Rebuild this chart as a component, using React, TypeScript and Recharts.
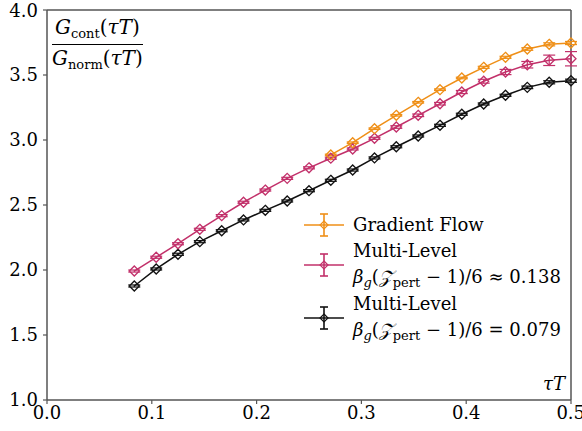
import React from 'react';
import { LineChart, Line, XAxis, YAxis, ErrorBar, ReferenceLine } from 'recharts';

// flow time in units of the inverse temperature
const tauT = [
  0.0833, 0.1042, 0.125, 0.1458, 0.1667, 0.1875, 0.2083, 0.2292, 0.25, 0.2708, 0.2917,
  0.3125, 0.3333, 0.3542, 0.375, 0.3958, 0.4167, 0.4375, 0.4583, 0.4792, 0.5,
];

const gradientFlow = [
  null, null, null, null, null, null, null, null, null,
  2.885, 2.979, 3.087, 3.19, 3.29, 3.387, 3.477, 3.559, 3.636, 3.7, 3.736, 3.746,
];
const gradientFlowErr = [
  null, null, null, null, null, null, null, null, null,
  0.006, 0.006, 0.006, 0.006, 0.006, 0.006, 0.006, 0.008, 0.008, 0.01, 0.012, 0.012,
];

const multiLevel138 = [
  1.992, 2.098, 2.202, 2.313, 2.418, 2.521, 2.615, 2.705, 2.786, 2.86, 2.931,
  3.013, 3.1, 3.19, 3.279, 3.369, 3.452, 3.523, 3.579, 3.613, 3.625,
];
const multiLevel138Err = [
  0.008, 0.008, 0.008, 0.008, 0.008, 0.008, 0.008, 0.008, 0.008, 0.008, 0.008,
  0.008, 0.01, 0.01, 0.01, 0.012, 0.015, 0.02, 0.025, 0.04, 0.055,
];

const multiLevel079 = [
  1.877, 2.008, 2.121, 2.218, 2.302, 2.385, 2.459, 2.531, 2.61, 2.69, 2.769,
  2.862, 2.948, 3.031, 3.113, 3.198, 3.277, 3.344, 3.405, 3.444, 3.456,
];
const multiLevel079Err = [
  0.008, 0.008, 0.008, 0.008, 0.008, 0.008, 0.008, 0.008, 0.008, 0.008, 0.008,
  0.008, 0.008, 0.008, 0.008, 0.008, 0.008, 0.008, 0.01, 0.012, 0.012,
];

const xTicks = [0, 0.1, 0.2, 0.3, 0.4, 0.5];
const yTicks = [1.0, 1.5, 2.0, 2.5, 3.0, 3.5, 4.0];

const ORANGE = '#EF8F17';
const CRIMSON = '#C2306A';
const BLACK = '#111111';
const FRAME = '#555555';
const FONT = 'DejaVu Serif';

const data = tauT.map((t, i) => ({
  t,
  gf: gradientFlow[i],
  gfErr: gradientFlowErr[i],
  ml1: multiLevel138[i],
  ml1Err: multiLevel138Err[i],
  ml2: multiLevel079[i],
  ml2Err: multiLevel079Err[i],
}));

const diamond = (color: string) => (props: any) => {
  const { cx, cy, value, index } = props;
  if (cx == null || cy == null || value == null) return <g key={`d-${index}`} />;
  const r = 5;
  return (
    <path
      key={`d-${index}`}
      d={`M${cx},${cy - r}L${cx + r},${cy}L${cx},${cy + r}L${cx - r},${cy}Z`}
      fill="none"
      stroke={color}
      strokeWidth={1.3}
    />
  );
};

const LegendIcon = ({ color }: { color: string }) => (
  <svg width={44} height={26} style={{ display: 'block' }}>
    <line x1={2} y1={13} x2={42} y2={13} stroke={color} strokeWidth={1.6} />
    <line x1={22} y1={2} x2={22} y2={24} stroke={color} strokeWidth={1.6} />
    <line x1={18} y1={2} x2={26} y2={2} stroke={color} strokeWidth={1.6} />
    <line x1={18} y1={24} x2={26} y2={24} stroke={color} strokeWidth={1.6} />
    <path d="M22,9L26,13L22,17L18,13Z" fill="none" stroke={color} strokeWidth={1.2} />
  </svg>
);

const sub = (s: string, italic = false) => (
  <span style={{ fontSize: 13, fontStyle: italic ? 'italic' : 'normal', position: 'relative', top: 4 }}>{s}</span>
);

const Beta = ({ rel, val }: { rel: string; val: string }) => (
  <span>
    <i>β</i>
    {sub('g', true)}(<i>𝒵</i>
    {sub('pert')} − 1)/6 {rel} {val}
  </span>
);

export default function App() {
  return (
    <div style={{ position: 'absolute', left: 0, top: 0, width: 582, height: 431, background: '#fff', fontFamily: FONT }}>
      <LineChart width={582} height={431} data={data} margin={{ top: 10, right: 11, bottom: 0, left: 0 }}>
        <XAxis
          dataKey="t"
          type="number"
          domain={[0, 0.5]}
          ticks={xTicks}
          tickFormatter={(v: number) => v.toFixed(1)}
          height={31}
          tickSize={4}
          tickMargin={2}
          axisLine={{ stroke: FRAME, strokeWidth: 1.5 }}
          tickLine={{ stroke: FRAME, strokeWidth: 1.2 }}
          tick={{ fill: '#000', fontSize: 18, fontFamily: FONT }}
        />
        <YAxis
          type="number"
          domain={[1, 4]}
          ticks={yTicks}
          tickFormatter={(v: number) => v.toFixed(1)}
          width={47}
          tickSize={4}
          tickMargin={5}
          axisLine={{ stroke: FRAME, strokeWidth: 1.5 }}
          tickLine={{ stroke: FRAME, strokeWidth: 1.2 }}
          tick={{ fill: '#000', fontSize: 18, fontFamily: FONT }}
        />
        <ReferenceLine y={4} stroke={FRAME} strokeWidth={1.5} />
        <ReferenceLine x={0.5} stroke={FRAME} strokeWidth={1.5} />
        <Line dataKey="ml2" stroke={BLACK} strokeWidth={1.5} dot={diamond(BLACK)} isAnimationActive={false}>
          <ErrorBar dataKey="ml2Err" direction="y" width={6} stroke={BLACK} strokeWidth={1.2} isAnimationActive={false} />
        </Line>
        <Line dataKey="ml1" stroke={CRIMSON} strokeWidth={1.5} dot={diamond(CRIMSON)} isAnimationActive={false}>
          <ErrorBar dataKey="ml1Err" direction="y" width={6} stroke={CRIMSON} strokeWidth={1.2} isAnimationActive={false} />
        </Line>
        <Line dataKey="gf" stroke={ORANGE} strokeWidth={1.5} dot={diamond(ORANGE)} isAnimationActive={false}>
          <ErrorBar dataKey="gfErr" direction="y" width={6} stroke={ORANGE} strokeWidth={1.2} isAnimationActive={false} />
        </Line>
      </LineChart>

      {/* ratio label in the upper-left corner */}
      <div style={{ position: 'absolute', left: 52, top: 14, fontSize: 20, textAlign: 'center', lineHeight: '27px' }}>
        <div style={{ borderBottom: '1.3px solid #000', padding: '0 1px 1px' }}>
          <i>G</i>
          {sub('cont')}(<i>τT</i>)
        </div>
        <div style={{ paddingTop: 0 }}>
          <i>G</i>
          {sub('norm')}(<i>τT</i>)
        </div>
      </div>

      <div style={{ position: 'absolute', left: 543, top: 373, fontSize: 18 }}>
        <i>τT</i>
      </div>

      {/* legend */}
      <div style={{ position: 'absolute', left: 302, top: 212, fontSize: 18, lineHeight: '25.5px' }}>
        <div style={{ display: 'flex', alignItems: 'center' }}>
          <LegendIcon color={ORANGE} />
          <span style={{ marginLeft: 7 }}>Gradient Flow</span>
        </div>
        <div style={{ display: 'flex', alignItems: 'center' }}>
          <LegendIcon color={CRIMSON} />
          <div style={{ marginLeft: 7 }}>
            <div>Multi-Level</div>
            <Beta rel="≈" val="0.138" />
          </div>
        </div>
        <div style={{ display: 'flex', alignItems: 'center' }}>
          <LegendIcon color={BLACK} />
          <div style={{ marginLeft: 7 }}>
            <div>Multi-Level</div>
            <Beta rel="=" val="0.079" />
          </div>
        </div>
      </div>
    </div>
  );
}
